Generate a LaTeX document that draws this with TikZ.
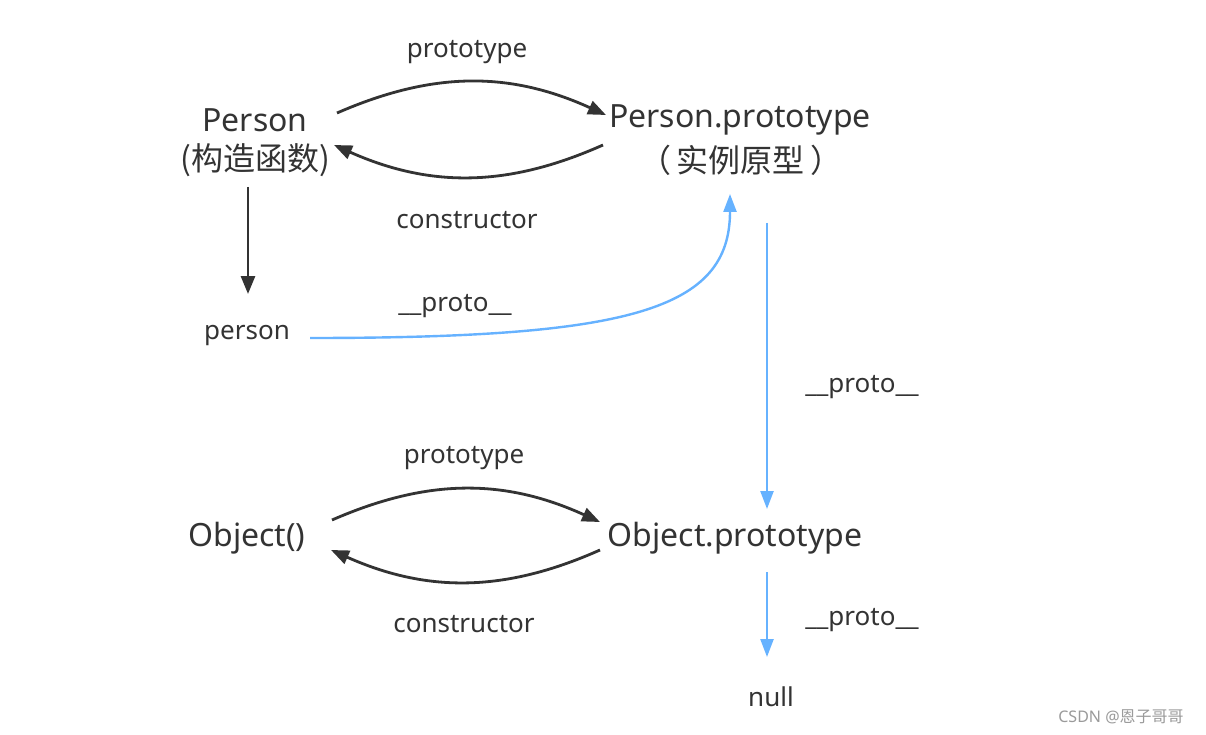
\documentclass[tikz,border=0pt]{standalone}
\usepackage{fontspec}
\setmainfont{Noto Sans}
\newfontfamily\cjk{Noto Sans CJK SC}
\usetikzlibrary{arrows.meta}
\definecolor{ink}{HTML}{333333}
\definecolor{pblue}{HTML}{66B2FF}
\definecolor{wm}{HTML}{9A9A9A}
\begin{document}
\begin{tikzpicture}[x=1pt,y=-1pt,
  main/.style={text=ink,font=\fontsize{32}{38}\selectfont,inner sep=0pt,anchor=center,yshift=-3pt},
  lbl/.style={text=ink,font=\fontsize{26}{31}\selectfont,inner sep=0pt,anchor=center,yshift=-3pt},
  darr/.style={draw=ink,line width=2.8pt,-{Triangle[length=18pt,width=14pt]}},
  barr/.style={draw=pblue,line width=2.4pt,-{Triangle[length=18pt,width=13pt]}},
]
\useasboundingbox[fill=white] (0,0) rectangle (1206,735);
% main nodes
\node[main] (P) at (255,117) {Person};
\node[main] (Pc) at (255,157) {\cjk (构造函数)};
\node[main] (PP) at (740,117) {Person.prototype};
\node[main] (PPc) at (741,157) {\cjk （\,实例原型\,）};
\node[lbl] (p) at (247,333) {person};
\node[main] (O) at (247,535) {Object()};
\node[main] (OP) at (735,535) {Object.prototype};
\node[lbl] (n) at (771,694) {null};
% labels
\node[lbl] (l1) at (467,49) {prototype};
\node[lbl] (l2) at (467,217) {constructor};
\node[lbl] (l3) at (455,303) {\_\_proto\_\_};
\node[lbl] (l4) at (862,384) {\_\_proto\_\_};
\node[lbl] (l5) at (464,455) {prototype};
\node[lbl] (l6) at (464,621) {constructor};
\node[lbl] (l7) at (862,617) {\_\_proto\_\_};
\node[text=wm,font=\fontsize{16}{19}\selectfont,inner sep=0pt] (wm) at (1121,717) {CSDN @\cjk 恩子哥哥};
% connector end points
\coordinate (a1s) at (337,113); \coordinate (a1e) at (606,115);
\coordinate (a2s) at (603,145); \coordinate (a2e) at (334,145);
\coordinate (a3s) at (248,187); \coordinate (a3e) at (248,294);
\coordinate (b1s) at (310,338); \coordinate (b1e) at (730,194);
\coordinate (b2s) at (767,223); \coordinate (b2e) at (767,509);
\coordinate (a4s) at (332,520); \coordinate (a4e) at (600,522);
\coordinate (a5s) at (600,550); \coordinate (a5e) at (331,550);
\coordinate (b3s) at (767,572); \coordinate (b3e) at (767,657);
% connectors
\draw[darr] (a1s) to[bend left=24] (a1e);
\draw[darr] (a2s) to[bend left=24] (a2e);
\draw[darr] (a3s) -- (a3e);
\draw[barr] (b1s) .. controls (630,338) and (730,310) .. (b1e);
\draw[barr] (b2s) -- (b2e);
\draw[darr] (a4s) to[bend left=24] (a4e);
\draw[darr] (a5s) to[bend left=24] (a5e);
\draw[barr] (b3s) -- (b3e);
\end{tikzpicture}
\end{document}
